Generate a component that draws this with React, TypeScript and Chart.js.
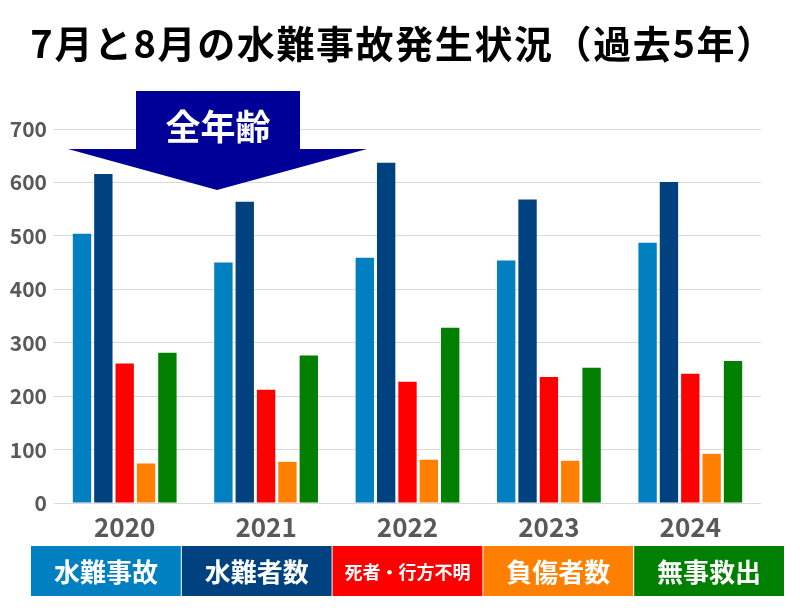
import React, { useEffect, useRef } from 'react';
import { Chart, registerables } from 'chart.js';

Chart.register(...registerables);

const years = ['2020', '2021', '2022', '2023', '2024'];
const seriesNames = ['水難事故', '水難者数', '死者・行方不明', '負傷者数', '無事救出'];
const accidents = [504, 450, 459, 454, 487];
const victims = [616, 564, 637, 568, 601];
const deadMissing = [261, 212, 227, 236, 242];
const injured = [74, 77, 81, 79, 92];
const rescued = [281, 276, 328, 253, 266];
const seriesColors = ['#007FC1', '#004280', '#FF0000', '#FF8000', '#007F00'];
const yMax = 700;
const yStep = 100;
const titleText = '7月と8月の水難事故発生状況（過去5年）';
const arrowText = '全年齢';

const FONT = '"Noto Sans CJK JP", "Noto Sans", sans-serif';

const overlayPlugin = {
  id: 'overlay',
  afterDraw(chart: any) {
    const ctx = chart.ctx as CanvasRenderingContext2D;
    ctx.save();
    // Title
    ctx.fillStyle = '#000000';
    ctx.textAlign = 'center';
    ctx.textBaseline = 'middle';
    ctx.font = `bold 38px ${FONT}`;
    (ctx as any).letterSpacing = '1.6px';
    ctx.fillText(titleText, 403, 44);
    (ctx as any).letterSpacing = '0px';

    // Arrow annotation
    ctx.fillStyle = '#000099';
    ctx.beginPath();
    ctx.moveTo(136, 91);
    ctx.lineTo(300, 91);
    ctx.lineTo(300, 149);
    ctx.lineTo(367, 149);
    ctx.lineTo(217, 190);
    ctx.lineTo(68, 149);
    ctx.lineTo(136, 149);
    ctx.closePath();
    ctx.fill();
    ctx.fillStyle = '#FFFFFF';
    ctx.font = `bold 35px ${FONT}`;
    ctx.fillText(arrowText, 218, 127);

    // Legend boxes
    const left = 31;
    const boxW = 150.8;
    const top = 546;
    const boxH = 50;
    chart.data.datasets.forEach((ds: any, i: number) => {
      const x = left + i * boxW;
      ctx.fillStyle = ds.backgroundColor;
      ctx.fillRect(x, top, boxW - 1, boxH);
      ctx.fillStyle = '#FFFFFF';
      const label = ds.label as string;
      const size = label.length > 5 ? 18 : 26;
      ctx.font = `bold ${size}px ${FONT}`;
      ctx.fillText(label, x + (boxW - 1) / 2, top + boxH / 2 + 1);
    });
    ctx.restore();
  },
};

export default function App() {
  const canvasRef = useRef<HTMLCanvasElement | null>(null);

  useEffect(() => {
    document.body.style.margin = '0';
    const canvas = canvasRef.current;
    if (!canvas) return;
    const values = [accidents, victims, deadMissing, injured, rescued];
    const chart = new Chart(canvas, {
      type: 'bar',
      data: {
        labels: years,
        datasets: seriesNames.map((name, i) => ({
          label: name,
          data: values[i],
          backgroundColor: seriesColors[i],
          borderWidth: 0,
          categoryPercentage: 0.755,
          barPercentage: 0.86,
        })),
      },
      options: {
        animation: false,
        responsive: false,
        layout: { padding: { top: 129, bottom: 67, left: 0, right: 39 } },
        plugins: {
          legend: { display: false },
          title: { display: false },
          tooltip: { enabled: false },
        },
        scales: {
          x: {
            grid: { display: false },
            border: { display: false },
            ticks: {
              color: '#595959',
              font: { family: FONT, size: 26, weight: 'bold' },
              padding: 1,
            },
            afterFit: (scale: any) => {
              scale.height = 40;
            },
          },
          y: {
            min: 0,
            max: yMax,
            grid: { color: '#D9D9D9', drawTicks: false, lineWidth: 1 },
            border: { display: false },
            ticks: {
              stepSize: yStep,
              color: '#595959',
              font: { family: FONT, size: 21, weight: 'bold' },
              padding: 7,
            },
            afterFit: (scale: any) => {
              scale.width = 54;
            },
          },
        },
      },
      plugins: [overlayPlugin],
    });
    return () => chart.destroy();
  }, []);

  return (
    <div style={{ width: 800, height: 610, background: '#FFFFFF' }}>
      <canvas ref={canvasRef} width={800} height={610} />
    </div>
  );
}
